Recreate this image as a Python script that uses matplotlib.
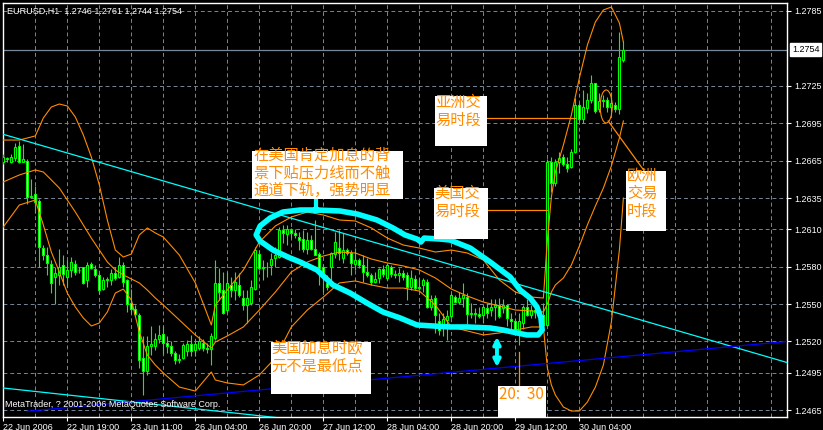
import matplotlib
matplotlib.use('Agg')
import matplotlib.pyplot as plt
from matplotlib.patches import Rectangle, Ellipse
from matplotlib.transforms import blended_transform_factory
import numpy as np

# EURUSD H1 candles
opens = [1.2664, 1.2667, 1.2664, 1.2667, 1.2677, 1.2664, 1.2665, 1.2636, 1.2638, 1.2633,
         1.2595, 1.2589, 1.2582, 1.2572, 1.2573, 1.2581, 1.2572, 1.2577, 1.2582, 1.2577,
         1.2580, 1.2569, 1.2582, 1.2578, 1.2573, 1.2562, 1.2569, 1.2569, 1.2575, 1.2572,
         1.2581, 1.2569, 1.2551, 1.2546, 1.2541, 1.2507, 1.2496, 1.2516, 1.2516, 1.2522,
         1.2526, 1.2519, 1.2516, 1.2511, 1.2505, 1.2507, 1.2512, 1.2518, 1.2513, 1.2515,
         1.2519, 1.2515, 1.2514, 1.2523, 1.2567, 1.2561, 1.2545, 1.2565, 1.2561, 1.2565,
         1.2555, 1.2549, 1.2551, 1.2562, 1.2590, 1.2579, 1.2580, 1.2581, 1.2587, 1.2588,
         1.2609, 1.2606, 1.2609, 1.2607, 1.2604, 1.2602, 1.2594, 1.2601, 1.2594, 1.2590,
         1.2580, 1.2567, 1.2580, 1.2590, 1.2595, 1.2587, 1.2593, 1.2591, 1.2582, 1.2585,
         1.2581, 1.2576, 1.2573, 1.2568, 1.2571, 1.2578, 1.2571, 1.2580, 1.2574, 1.2573,
         1.2575, 1.2573, 1.2564, 1.2570, 1.2563, 1.2565, 1.2568, 1.2548, 1.2555, 1.2536,
         1.2533, 1.2537, 1.2540, 1.2556, 1.2552, 1.2555, 1.2556, 1.2542, 1.2543, 1.2542,
         1.2541, 1.2547, 1.2545, 1.2548, 1.2549, 1.2547, 1.2549, 1.2538, 1.2536, 1.2529,
         1.2535, 1.2548, 1.2541, 1.2545, 1.2544, 1.2541, 1.2533, 1.2664, 1.2647, 1.2664,
         1.2668, 1.2662, 1.2660, 1.2672, 1.2710, 1.2698, 1.2707, 1.2714, 1.2727, 1.2706,
         1.2713, 1.2714, 1.2708, 1.2710, 1.2706, 1.2746]
highs = [1.2670, 1.2668, 1.2670, 1.2679, 1.2681, 1.2678, 1.2666, 1.2650, 1.2645, 1.2634,
         1.2597, 1.2596, 1.2585, 1.2580, 1.2594, 1.2589, 1.2585, 1.2588, 1.2585, 1.2580,
         1.2580, 1.2584, 1.2584, 1.2581, 1.2575, 1.2572, 1.2572, 1.2578, 1.2580, 1.2588,
         1.2584, 1.2570, 1.2562, 1.2549, 1.2543, 1.2524, 1.2524, 1.2532, 1.2527, 1.2533,
         1.2532, 1.2524, 1.2520, 1.2512, 1.2510, 1.2519, 1.2521, 1.2525, 1.2521, 1.2524,
         1.2522, 1.2519, 1.2527, 1.2585, 1.2579, 1.2576, 1.2576, 1.2572, 1.2576, 1.2575,
         1.2561, 1.2561, 1.2569, 1.2596, 1.2593, 1.2585, 1.2584, 1.2591, 1.2596, 1.2612,
         1.2613, 1.2613, 1.2611, 1.2610, 1.2608, 1.2609, 1.2608, 1.2605, 1.2617, 1.2592,
         1.2581, 1.2573, 1.2592, 1.2608, 1.2609, 1.2607, 1.2595, 1.2593, 1.2595, 1.2587,
         1.2589, 1.2587, 1.2575, 1.2576, 1.2579, 1.2581, 1.2583, 1.2581, 1.2577, 1.2579,
         1.2577, 1.2576, 1.2577, 1.2573, 1.2571, 1.2571, 1.2570, 1.2557, 1.2557, 1.2543,
         1.2543, 1.2545, 1.2559, 1.2557, 1.2560, 1.2567, 1.2559, 1.2551, 1.2547, 1.2548,
         1.2549, 1.2551, 1.2554, 1.2554, 1.2555, 1.2554, 1.2550, 1.2543, 1.2538, 1.2543,
         1.2549, 1.2554, 1.2549, 1.2548, 1.2545, 1.2551, 1.2666, 1.2668, 1.2666, 1.2672,
         1.2670, 1.2668, 1.2674, 1.2715, 1.2711, 1.2722, 1.2719, 1.2734, 1.2727, 1.2719,
         1.2718, 1.2716, 1.2720, 1.2712, 1.2768, 1.2761]
lows = [1.2662, 1.2664, 1.2663, 1.2665, 1.2663, 1.2664, 1.2630, 1.2635, 1.2623, 1.2580,
        1.2585, 1.2573, 1.2559, 1.2550, 1.2565, 1.2565, 1.2564, 1.2572, 1.2573, 1.2575,
        1.2566, 1.2564, 1.2578, 1.2572, 1.2558, 1.2561, 1.2564, 1.2565, 1.2569, 1.2571,
        1.2564, 1.2544, 1.2543, 1.2540, 1.2499, 1.2477, 1.2493, 1.2509, 1.2513, 1.2519,
        1.2510, 1.2511, 1.2508, 1.2502, 1.2503, 1.2506, 1.2508, 1.2508, 1.2508, 1.2513,
        1.2512, 1.2511, 1.2501, 1.2521, 1.2553, 1.2542, 1.2544, 1.2556, 1.2553, 1.2556,
        1.2545, 1.2535, 1.2549, 1.2561, 1.2577, 1.2569, 1.2572, 1.2573, 1.2580, 1.2587,
        1.2599, 1.2597, 1.2603, 1.2603, 1.2593, 1.2592, 1.2590, 1.2593, 1.2589, 1.2565,
        1.2560, 1.2561, 1.2565, 1.2587, 1.2585, 1.2583, 1.2589, 1.2573, 1.2577, 1.2579,
        1.2568, 1.2572, 1.2565, 1.2567, 1.2567, 1.2572, 1.2569, 1.2572, 1.2571, 1.2568,
        1.2569, 1.2553, 1.2561, 1.2561, 1.2561, 1.2560, 1.2547, 1.2545, 1.2527, 1.2525,
        1.2524, 1.2521, 1.2539, 1.2551, 1.2550, 1.2548, 1.2534, 1.2539, 1.2535, 1.2539,
        1.2535, 1.2539, 1.2540, 1.2537, 1.2539, 1.2543, 1.2532, 1.2529, 1.2525, 1.2517,
        1.2530, 1.2540, 1.2539, 1.2539, 1.2540, 1.2532, 1.2532, 1.2640, 1.2645, 1.2655,
        1.2661, 1.2656, 1.2659, 1.2671, 1.2696, 1.2695, 1.2703, 1.2711, 1.2703, 1.2704,
        1.2708, 1.2704, 1.2704, 1.2704, 1.2702, 1.2744]
closes = [1.2668, 1.2666, 1.2668, 1.2676, 1.2664, 1.2666, 1.2636, 1.2637, 1.2632, 1.2596,
          1.2589, 1.2583, 1.2567, 1.2575, 1.2580, 1.2574, 1.2577, 1.2584, 1.2576, 1.2577,
          1.2567, 1.2581, 1.2579, 1.2573, 1.2561, 1.2569, 1.2570, 1.2575, 1.2571, 1.2581,
          1.2568, 1.2550, 1.2546, 1.2542, 1.2505, 1.2496, 1.2516, 1.2518, 1.2522, 1.2525,
          1.2519, 1.2516, 1.2511, 1.2505, 1.2506, 1.2517, 1.2518, 1.2512, 1.2518, 1.2520,
          1.2515, 1.2514, 1.2524, 1.2567, 1.2560, 1.2543, 1.2567, 1.2561, 1.2568, 1.2557,
          1.2549, 1.2555, 1.2564, 1.2593, 1.2579, 1.2580, 1.2580, 1.2586, 1.2589, 1.2609,
          1.2607, 1.2610, 1.2607, 1.2605, 1.2601, 1.2594, 1.2601, 1.2594, 1.2589, 1.2579,
          1.2572, 1.2564, 1.2591, 1.2600, 1.2591, 1.2593, 1.2591, 1.2583, 1.2585, 1.2581,
          1.2576, 1.2573, 1.2568, 1.2570, 1.2578, 1.2574, 1.2581, 1.2574, 1.2573, 1.2575,
          1.2572, 1.2564, 1.2571, 1.2563, 1.2564, 1.2569, 1.2548, 1.2554, 1.2541, 1.2529,
          1.2538, 1.2540, 1.2557, 1.2552, 1.2555, 1.2557, 1.2542, 1.2543, 1.2542, 1.2540,
          1.2548, 1.2543, 1.2548, 1.2549, 1.2540, 1.2549, 1.2539, 1.2536, 1.2529, 1.2536,
          1.2548, 1.2541, 1.2545, 1.2544, 1.2541, 1.2533, 1.2664, 1.2647, 1.2664, 1.2667,
          1.2662, 1.2659, 1.2672, 1.2710, 1.2698, 1.2708, 1.2714, 1.2727, 1.2705, 1.2713,
          1.2714, 1.2708, 1.2711, 1.2706, 1.2748, 1.2754]

time_labels = ['22 Jun 2006', '22 Jun 19:00', '23 Jun 11:00', '26 Jun 04:00', '26 Jun 20:00',
               '27 Jun 12:00', '28 Jun 04:00', '28 Jun 20:00', '29 Jun 12:00', '30 Jun 04:00']
price_ticks = [1.2785, 1.2725, 1.2695, 1.2665, 1.2635, 1.2610, 1.2580, 1.2550, 1.2520, 1.2495, 1.2465]
last_price = 1.2754

# bollinger bands (20,2)
bb_bars = [0, 4, 8, 10, 12, 14, 16, 18, 20, 22, 24, 26, 28, 30, 32, 34, 36, 38, 40, 44,
           48, 52, 53, 56, 60, 64, 68, 72, 76, 80, 84, 88, 92, 96, 100, 104, 108, 112, 116, 120,
           124, 128, 132, 135, 136, 137, 138, 140, 142, 144, 146, 148, 150, 152, 154, 155]
bb_upper = [1.26815, 1.26815, 1.26848, 1.26992, 1.27080, 1.27104, 1.27088, 1.27000, 1.26856, 1.26679,
            1.26455, 1.26174, 1.25933, 1.25877, 1.25901, 1.26054, 1.26110, 1.26070, 1.26037, 1.25893,
            1.25669, 1.25332, 1.25492, 1.25612, 1.25773, 1.25997, 1.26126, 1.26198, 1.26238, 1.26214,
            1.26174, 1.26166, 1.26110, 1.26029, 1.25973, 1.25949, 1.25917, 1.25933, 1.25909, 1.25853,
            1.25693, 1.25596, 1.25556, 1.25548, 1.26013, 1.26358, 1.26559, 1.26775, 1.27016, 1.27313,
            1.27577, 1.27762, 1.27858, 1.27882, 1.27754, 1.27601]
bb_middle = [1.26479, 1.26535, 1.26575, 1.26559, 1.26495, 1.26430, 1.26334, 1.26238, 1.26134, 1.26029,
             1.25933, 1.25837, 1.25773, 1.25733, 1.25701, 1.25669, 1.25612, 1.25548, 1.25492, 1.25372,
             1.25252, 1.25147, 1.25195, 1.25244, 1.25316, 1.25452, 1.25596, 1.25757, 1.25837, 1.25885,
             1.25917, 1.25909, 1.25861, 1.25829, 1.25805, 1.25773, 1.25709, 1.25620, 1.25564, 1.25516,
             1.25484, 1.25452, 1.25444, 1.25436, 1.25500, 1.25596, 1.25653, 1.25709, 1.25813, 1.25965,
             1.26134, 1.26286, 1.26430, 1.26607, 1.26831, 1.26968]
bb_lower = [1.26118, 1.26294, 1.26334, 1.26134, 1.25917, 1.25757, 1.25588, 1.25476, 1.25388, 1.25324,
            1.25348, 1.25436, 1.25588, 1.25620, 1.25532, 1.25276, 1.25091, 1.25011, 1.24947, 1.24834,
            1.24802, 1.24955, 1.24891, 1.24867, 1.24851, 1.24931, 1.25067, 1.25316, 1.25452, 1.25556,
            1.25669, 1.25685, 1.25653, 1.25628, 1.25628, 1.25604, 1.25492, 1.25316, 1.25284, 1.25252,
            1.25268, 1.25292, 1.25316, 1.25316, 1.24987, 1.24851, 1.24770, 1.24674, 1.24642, 1.24642,
            1.24714, 1.24834, 1.25011, 1.25356, 1.25933, 1.26350]

# trend lines, end points (bar, price)
resist_bars = [-1, 196]
resist_prices = [1.2687, 1.2503]
chan_low_bars = [-1, 120]
chan_low_prices = [1.2483, 1.2441]
support_bars = [6, 196]
support_prices = [1.2464, 1.2520]

# hand drawn loop round the consolidation
loop_bars = [78.2, 84.2, 88.4, 93.4, 97.4, 100.4, 103.4, 104.4, 105.2, 109.2,
             111.7, 116.7, 121.7, 126.7, 129.2, 131.7, 133.4, 134.4, 134.7, 133.7,
             130.9, 128.4, 124.9, 121.7, 115.9, 111.7, 107.4, 103.4, 99.2, 94.9,
             90.9, 86.7, 82.4, 78.4, 74.2, 71.7, 67.4, 64.2, 63.2, 64.2,
             66.7, 69.9, 74.2, 78.2]
loop_prices = [1.26254, 1.26246, 1.26222, 1.26174, 1.26110, 1.26054, 1.26021, 1.25997, 1.26029, 1.26021,
               1.26013, 1.25949, 1.25837, 1.25717, 1.25612, 1.25548, 1.25476, 1.25388, 1.25292, 1.25252,
               1.25252, 1.25268, 1.25292, 1.25308, 1.25316, 1.25316, 1.25324, 1.25332, 1.25388, 1.25436,
               1.25508, 1.25588, 1.25653, 1.25773, 1.25837, 1.25869, 1.25933, 1.26005, 1.26054, 1.26126,
               1.26190, 1.26238, 1.26254, 1.26254]

plt.rcParams['font.family'] = ['Liberation Sans', 'DejaVu Sans']
cjk = ['Noto Sans CJK SC', 'DejaVu Sans']
LIME = '#00FF00'
ORANGE = '#FF8C00'
CYAN = '#00FFFF'
GRID = '#778899'

fig = plt.figure(figsize=(8.23, 4.30), dpi=100, facecolor='black')
ax = fig.add_axes([3 / 823, 13 / 430, 784 / 823, 414 / 430])
ax.set_facecolor('black')
ax.set_xlim(-0.08, 195.9)
ax.set_ylim(1.24594, 1.27914)

# grid
ax.set_xticks(range(0, 145, 16))
ax.set_xticklabels(time_labels, ha='left')
ax.set_xticks(range(8, 196, 8), minor=True)
ax.set_yticks(price_ticks)
ax.set_yticklabels(['%.4f' % p for p in price_ticks])
ax.yaxis.tick_right()
ax.grid(which='both', axis='x', color=GRID, lw=0.7, linestyle=(0, (4, 3)))
ax.grid(which='major', axis='y', color=GRID, lw=0.7, linestyle=(0, (4, 3)))
ax.set_axisbelow(True)
ax.tick_params(axis='x', which='major', colors='white', length=3, width=0.8, pad=1, labelsize=6.5)
ax.tick_params(axis='x', which='minor', length=0)
ax.tick_params(axis='y', colors='white', length=3, width=0.8, pad=2, labelsize=6.5)
for s in ax.spines.values():
    s.set_color('white')
    s.set_linewidth(1)

# bid line
ax.axhline(last_price, color=GRID, lw=0.9, zorder=1)
trans = blended_transform_factory(ax.transAxes, ax.transData)
ax.text(1.0 + 5 / 784, last_price, '%.4f' % last_price, transform=trans, color='black',
        fontsize=6.5, va='center', ha='left', clip_on=False,
        bbox=dict(facecolor='white', edgecolor='white', pad=1.3))

# candles
o, h, l, c = map(np.array, (opens, highs, lows, closes))
idx = np.arange(len(o))
up = c >= o
ax.vlines(idx, l, h, color=LIME, lw=0.8, zorder=3)
ax.bar(idx, np.abs(c - o), bottom=np.minimum(o, c), width=0.55,
       color=np.where(up, 'black', 'white'), edgecolor=LIME, linewidth=0.8, zorder=3)

# bollinger bands
for band in (bb_upper, bb_middle, bb_lower):
    ax.plot(bb_bars, band, color=ORANGE, lw=0.8, zorder=4)

# trend lines
ax.plot(resist_bars, resist_prices, color=CYAN, lw=0.9, zorder=4)
ax.plot(chan_low_bars, chan_low_prices, color=CYAN, lw=0.9, zorder=4)
ax.plot(support_bars, support_prices, color='#0000FF', lw=0.9, zorder=4)

# annotations
ax.plot(loop_bars, loop_prices, color=CYAN, lw=4, solid_joinstyle='round', zorder=6)
ax.plot([78.2, 78.2], [1.26358, 1.26254], color=CYAN, lw=3, zorder=6)
ax.annotate('', xy=(123.4, 1.24971), xytext=(123.4, 1.25260),
            arrowprops=dict(arrowstyle='<->', color=CYAN, lw=2.8, mutation_scale=10), zorder=6)
ax.add_patch(Ellipse((150.7, 1.27084), 3.0, 0.00265, fill=False, edgecolor=ORANGE, lw=0.8, zorder=6))

ax.plot([120.9, 142.9], [1.26992, 1.26992], color=ORANGE, lw=0.9, zorder=6)
ax.plot([121.2, 135.9], [1.26254, 1.26254], color=ORANGE, lw=0.9, zorder=6)
ax.plot([151.2, 160.4], [1.26968, 1.26559], color=ORANGE, lw=0.9, zorder=6)
ax.plot([128.9, 128.9], [1.25115, 1.24843], color=ORANGE, lw=0.9, zorder=6)


def note(x0, y0, w, hgt, tx, ty, text):
    ax.add_patch(Rectangle((x0, y0), w, hgt, facecolor='white', edgecolor='none', zorder=7))
    ax.text(tx, ty, text, color=ORANGE, fontsize=11, family=cjk, va='center', ha='left',
            linespacing=1.07, zorder=8)


note(62.2, 1.26342, 37.7, 0.00385, 62.4, 1.26551, '在美国肯定加息的背\n景下贴压力线而不触\n通道下轨，强势明显')
note(107.9, 1.26767, 13.0, 0.00401, 108.0, 1.27048, '亚洲交\n易时段')
note(107.7, 1.26021, 13.5, 0.00409, 107.8, 1.26314, '美国交\n易时段')
note(155.7, 1.26086, 10.0, 0.00481, 155.9, 1.26386, '欧洲\n交易\n时段')
note(66.9, 1.24778, 25.0, 0.00417, 67.0, 1.25075, '美国加息时欧\n元不是最低点')
note(123.7, 1.2450, 12.0, 0.00343, 123.8, 1.24778, '20:  30')

ax.text(0.005, 0.981, 'EURUSD,H1  1.2746 1.2761 1.2744 1.2754', transform=ax.transAxes,
        color='white', fontsize=6.5, va='center', ha='left')
ax.text(0.003, 0.031, 'MetaTrader, ? 2001-2006 MetaQuotes Software Corp.', transform=ax.transAxes,
        color='white', fontsize=6.5, va='center', ha='left', zorder=9)

fig.savefig('out.png', dpi=100, facecolor='black')
